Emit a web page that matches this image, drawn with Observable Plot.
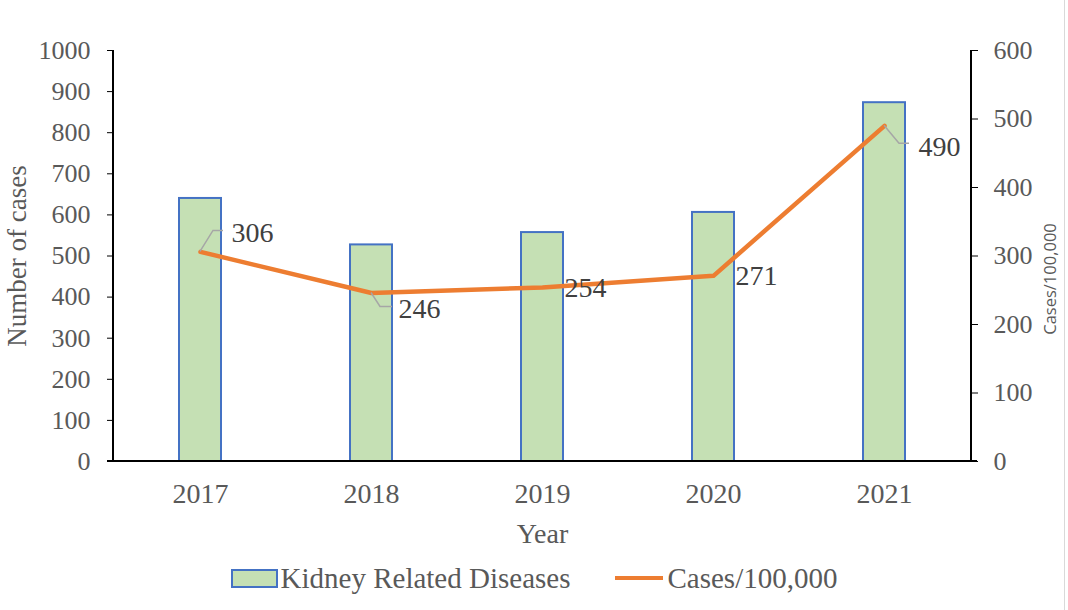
<!DOCTYPE html>
<html><head><meta charset="utf-8">
<script src="https://cdn.jsdelivr.net/npm/d3@7"></script>
<script src="https://cdn.jsdelivr.net/npm/@observablehq/plot@0.6"></script>
<style>
body{margin:0;background:#fff;}
#wrap{position:relative;width:1068px;height:610px;overflow:hidden;background:#fff;}
#edge{position:absolute;left:1064px;top:0;width:1px;height:610px;background:#D9D9D9;}
.legend{display:flex;justify-content:center;align-items:center;height:46px;font-family:"Liberation Serif",serif;font-size:29px;color:#595959;}
.legend .item{display:flex;align-items:center;}
.legend .swatch-bar{width:43px;height:15px;background:#C5E0B4;border:2px solid #4472C4;margin-right:3px;}
.legend .swatch-line{width:48px;height:4.5px;background:#ED7D31;margin-right:4px;}
</style></head><body><div id="wrap"><div id="edge"></div></div>
<script>
const years = ["2017", "2018", "2019", "2020", "2021"];
const kidneyCases = [640, 527, 557, 606, 873];
const casesPer100k = [306, 246, 254, 271, 490];
const leftTicks = [0, 100, 200, 300, 400, 500, 600, 700, 800, 900, 1000];
const rightTicks = [0, 100, 200, 300, 400, 500, 600];
const seriesNames = ["Kidney Related Diseases", "Cases/100,000"];
const axisTitles = {x: "Year", left: "Number of cases", right: "Cases/100,000"};

// styling (pixel offsets of data labels and leader lines)
const labelOffsets = [[31, -19], [27, 16], [22, 1], [22, 0], [34, 21]];
const leaderPaths = [[[0,0],[13,-21],[23,-21]], [[0,0],[9,14],[21,14]], null, null, [[0,0],[15,18],[25,18]]];

const k = 1000 / 600; // right axis -> left axis
const rows = years.map((y, i) => ({year: y, cases: kidneyCases[i], rate: casesPer100k[i], rateScaled: casesPer100k[i] * k}));

const W = 1068, H = 555;
const serif = "Liberation Serif, Times New Roman, serif";

function overlay(index, scales, values, dims) {
  const g = d3.create("svg:g");
  const xs = scales.x;
  const bw = typeof xs.bandwidth === "function" ? xs.bandwidth() : (xs.bandwidth || 0);
  rows.forEach((r, i) => {
    const L = leaderPaths[i];
    if (!L) return;
    const cx = xs(r.year) + bw / 2, cy = scales.y(r.rateScaled);
    g.append("path")
      .attr("d", "M" + L.map(p => (cx + p[0]) + "," + (cy + p[1])).join("L"))
      .attr("fill", "none").attr("stroke", "#A6A6A6").attr("stroke-width", 1.5);
  });
  const x0 = dims.marginLeft, x1 = dims.width - dims.marginRight;
  const y0 = dims.marginTop, y1 = dims.height - dims.marginBottom;
  g.append("line").attr("x1", x0).attr("x2", x0).attr("y1", y0).attr("y2", y1).attr("stroke", "#000").attr("stroke-width", 2);
  g.append("line").attr("x1", x1).attr("x2", x1).attr("y1", y0).attr("y2", y1).attr("stroke", "#000").attr("stroke-width", 2);
  g.append("line").attr("x1", x0 - 6).attr("x2", x1 + 6).attr("y1", y1).attr("y2", y1).attr("stroke", "#000").attr("stroke-width", 2);
  return g.node();
}

const labelMarks = rows.map((r, i) => Plot.text([r], {
  x: "year", y: "rateScaled", text: d => String(d.rate),
  dx: labelOffsets[i][0], dy: labelOffsets[i][1], textAnchor: "start",
  fontSize: 28, fill: "#404040", fontFamily: serif
}));

const chart = Plot.plot({
  width: W, height: H,
  marginLeft: 113, marginRight: 97, marginTop: 50, marginBottom: 94,
  style: {fontFamily: serif, background: "#fff", overflow: "visible"},
  x: {type: "band", domain: years, paddingInner: 0.755, paddingOuter: 0.3775, label: null},
  y: {domain: [0, 1000], label: null},
  marks: [
    Plot.barY(rows, {x: "year", y: "cases", fill: "#C5E0B4", stroke: "#4472C4", strokeWidth: 2}),
    Plot.line(rows, {x: "year", y: "rateScaled", stroke: "#ED7D31", strokeWidth: 4.5, strokeLinejoin: "round", strokeLinecap: "round"}),
    overlay,
    ...labelMarks,
    Plot.axisY({ticks: leftTicks, tickFormat: d => String(d), tickSize: 6, tickPadding: 17, stroke: "#000", fill: "#595959", fontSize: 26, label: null}),
    Plot.axisY({anchor: "right", ticks: rightTicks.map(v => v * k), tickFormat: d => String(Math.round(d / k)), tickSize: 6, tickPadding: 16, stroke: "#000", fill: "#595959", fontSize: 26, label: null}),
    Plot.axisX({tickSize: 0, tickPadding: 22, fill: "#595959", fontSize: 28, label: null}),
    Plot.text([axisTitles.left], {frameAnchor: "left", dx: -96, rotate: -90, text: d => d, fontSize: 27, fill: "#595959", textAnchor: "middle", lineAnchor: "middle", fontFamily: serif}),
    Plot.text([axisTitles.right], {frameAnchor: "right", dx: 79, dy: 23, rotate: -90, text: d => d, fontSize: 16.5, fill: "#595959", textAnchor: "middle", lineAnchor: "middle", fontFamily: "Open Sans, sans-serif"}),
    Plot.text([axisTitles.x], {frameAnchor: "bottom", dy: 73, text: d => d, fontSize: 28, fill: "#595959", textAnchor: "middle", lineAnchor: "middle", fontFamily: serif})
  ]
});

const wrap = document.getElementById("wrap");
wrap.appendChild(chart);

const legend = document.createElement("div");
legend.className = "legend";
legend.innerHTML = `<div class="item"><span class="swatch-bar"></span><span>${seriesNames[0]}</span></div>` +
  `<div class="item" style="margin-left:45px"><span class="swatch-line"></span><span>${seriesNames[1]}</span></div>`;
wrap.appendChild(legend);
</script>
</body></html>
